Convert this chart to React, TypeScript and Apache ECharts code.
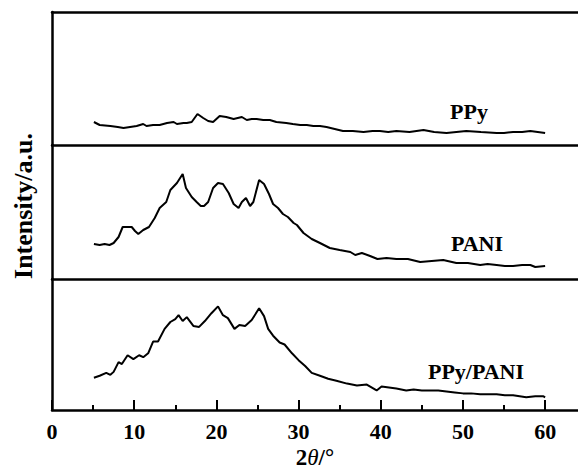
import React, { useEffect, useRef } from "react";
import * as echarts from "echarts";

// 2θ (degrees) vs intensity (a.u.)
const ppyData: [number, number][] = [
  [5.1, 23], [5.8, 20], [7.1, 19], [8.0, 18], [8.7, 17], [9.5, 18], [10.3, 19], [11.1, 21], [11.5, 19],
  [12.3, 20], [13.1, 20], [14.0, 22], [14.8, 23], [15.2, 21], [16.0, 22], [16.4, 22], [17.0, 23],
  [17.7, 31], [18.4, 27], [19.0, 24], [19.6, 23], [20.4, 29], [21.2, 28], [22.1, 26], [23.1, 28],
  [23.7, 25], [24.3, 26], [24.9, 26], [25.7, 25], [26.5, 25], [27.3, 23], [28.5, 22], [29.3, 21],
  [30.2, 20], [31.0, 20], [31.8, 19], [32.6, 19], [33.4, 18], [34.4, 16], [35.4, 14], [36.6, 14],
  [37.9, 13], [39.0, 14], [39.9, 14], [40.9, 13], [41.9, 14], [43.5, 13], [45.2, 15], [46.5, 13],
  [48.0, 12], [49.2, 13], [50.4, 14], [52.2, 13], [54.1, 12], [55.0, 12], [56.1, 13], [57.2, 13],
  [58.2, 14], [59.1, 13], [60.0, 12],
];

const paniData: [number, number][] = [
  [5.1, 35], [5.8, 34], [6.4, 35], [7.0, 34], [7.5, 36], [8.1, 42], [8.6, 52], [9.7, 52], [10.1, 48],
  [10.5, 45], [11.1, 49], [11.8, 52], [12.5, 61], [13.1, 71], [13.9, 77], [14.4, 89], [15.2, 96],
  [15.9, 105], [16.3, 91], [17.0, 82], [17.6, 77], [18.1, 73], [18.5, 73], [19.0, 77], [19.6, 91],
  [20.2, 96], [20.8, 95], [21.5, 86], [22.1, 75], [22.7, 71], [23.1, 77], [23.6, 81], [24.1, 73],
  [24.5, 77], [25.2, 99], [25.8, 95], [26.4, 85], [26.9, 75], [27.5, 71], [28.1, 65], [28.7, 62],
  [29.4, 56], [29.8, 54], [30.6, 46], [31.6, 40], [32.6, 36], [33.8, 31], [35.0, 29], [36.3, 27],
  [36.9, 24], [37.7, 26], [38.7, 23], [39.6, 20], [40.7, 21], [41.9, 20], [43.3, 20], [44.8, 17],
  [46.2, 18], [47.6, 19], [49.2, 16], [50.6, 16], [52.1, 14], [53.0, 15], [54.1, 14], [55.1, 13],
  [56.1, 13], [57.2, 14], [58.2, 14], [58.8, 12], [60.0, 13],
];

const ppyPaniData: [number, number][] = [
  [5.1, 33], [5.8, 35], [6.6, 38], [7.1, 36], [7.5, 39], [8.1, 49], [8.5, 47], [9.2, 56], [9.9, 52],
  [10.6, 56], [11.1, 54], [11.7, 58], [12.3, 70], [12.9, 70], [13.7, 83], [14.4, 90], [15.0, 93],
  [15.4, 97], [15.9, 91], [16.4, 95], [17.2, 86], [17.9, 85], [18.6, 91], [19.4, 99], [20.2, 106],
  [20.8, 97], [21.4, 94], [22.2, 83], [22.8, 87], [23.5, 86], [23.9, 89], [24.3, 92], [25.2, 104],
  [25.8, 96], [26.3, 83], [26.9, 76], [27.7, 69], [28.3, 67], [29.2, 58], [30.0, 51], [30.8, 45],
  [31.6, 38], [32.6, 35], [33.6, 32], [34.6, 30], [35.9, 27], [37.1, 25], [38.3, 26], [39.5, 20],
  [40.1, 24], [41.0, 23], [41.9, 22], [43.1, 20], [44.0, 21], [45.0, 20], [46.0, 20], [47.0, 20],
  [48.0, 19], [49.0, 18], [50.0, 17], [51.0, 17], [52.1, 16], [53.1, 16], [54.1, 16], [55.1, 15],
  [56.1, 15], [57.7, 13], [58.8, 14], [59.8, 14], [60.0, 13],
];

const sampleNames = ["PPy", "PANI", "PPy/PANI"];
const majorTicks = [0, 10, 20, 30, 40, 50, 60];
const minorTicks = [5, 15, 25, 35, 45, 55];

const FONT = '"Liberation Serif", "Times New Roman", serif';

export default function App() {
  const ref = useRef<HTMLDivElement>(null);

  useEffect(() => {
    if (!ref.current) return;
    const chart = echarts.init(ref.current, undefined, { renderer: "svg" });

    const lineStyle = { color: "#000", width: 2.5 };
    const plainX = (gridIndex: number, position: string) => ({
      gridIndex,
      type: "value",
      min: 0,
      max: 64,
      position,
      axisLine: { show: true, onZero: false, lineStyle },
      axisTick: { show: false },
      axisLabel: { show: false },
      splitLine: { show: false },
    });

    const option: any = {
      animation: false,
      backgroundColor: "#fff",
      grid: [
        { left: 52, right: 0, top: 12, height: 133 },
        { left: 52, right: 0, top: 145, height: 134 },
        { left: 52, right: 0, top: 279, height: 134 },
      ],
      xAxis: [
        plainX(0, "bottom"),
        plainX(0, "top"),
        plainX(1, "bottom"),
        {
          gridIndex: 2,
          type: "value",
          min: 0,
          max: 64,
          position: "bottom",
          axisLine: { show: true, onZero: false, lineStyle },
          axisTick: {
            show: true,
            inside: true,
            length: 10,
            customValues: majorTicks,
            lineStyle: { color: "#000", width: 2 },
          },
          axisLabel: {
            show: true,
            customValues: majorTicks,
            margin: 10,
            color: "#000",
            fontFamily: FONT,
            fontWeight: "bold",
            fontSize: 22,
          },
          splitLine: { show: false },
          name: "{a|2}{b|θ}{a|/°}",
          nameLocation: "middle",
          nameGap: 36,
          nameTextStyle: {
            rich: {
              a: { fontFamily: FONT, fontWeight: "bold", fontSize: 23, color: "#000" },
              b: { fontFamily: FONT, fontStyle: "italic", fontSize: 23, color: "#000" },
            },
          },
        },
        {
          gridIndex: 2,
          type: "value",
          min: 0,
          max: 64,
          position: "bottom",
          axisLine: { show: false },
          axisTick: {
            show: true,
            inside: true,
            length: 5,
            customValues: minorTicks,
            lineStyle: { color: "#000", width: 2 },
          },
          axisLabel: { show: false },
          splitLine: { show: false },
        },
      ],
      yAxis: [0, 1, 2].map((i) => ({
        gridIndex: i,
        type: "value",
        min: 0,
        max: i === 0 ? 133 : 134,
        axisLine: { show: true, onZero: false, lineStyle },
        axisTick: { show: false },
        axisLabel: { show: false },
        splitLine: { show: false },
      })),
      series: [ppyData, paniData, ppyPaniData].map((data, i) => ({
        type: "line",
        name: sampleNames[i],
        xAxisIndex: i === 0 ? 0 : i === 1 ? 2 : 3,
        yAxisIndex: i,
        data,
        showSymbol: false,
        symbol: "none",
        lineStyle: { color: "#000", width: 2 },
      })),
      graphic: [
        {
          type: "text",
          x: 469,
          y: 111,
          style: { text: sampleNames[0], font: `bold 22px ${FONT}`, fill: "#000", textAlign: "center", textVerticalAlign: "middle" },
        },
        {
          type: "text",
          x: 477,
          y: 243,
          style: { text: sampleNames[1], font: `bold 22px ${FONT}`, fill: "#000", textAlign: "center", textVerticalAlign: "middle" },
        },
        {
          type: "text",
          x: 476,
          y: 371,
          style: { text: sampleNames[2], font: `bold 22px ${FONT}`, fill: "#000", textAlign: "center", textVerticalAlign: "middle" },
        },
        {
          type: "text",
          x: 23,
          y: 206,
          rotation: Math.PI / 2,
          style: { text: "Intensity/a.u.", font: `bold 26px ${FONT}`, fill: "#000", textAlign: "center", textVerticalAlign: "middle" },
        },
      ],
    };

    chart.setOption(option);
    return () => chart.dispose();
  }, []);

  return (
    <div
      ref={ref}
      style={{ position: "absolute", left: 0, top: 0, width: 578, height: 470 }}
    />
  );
}
